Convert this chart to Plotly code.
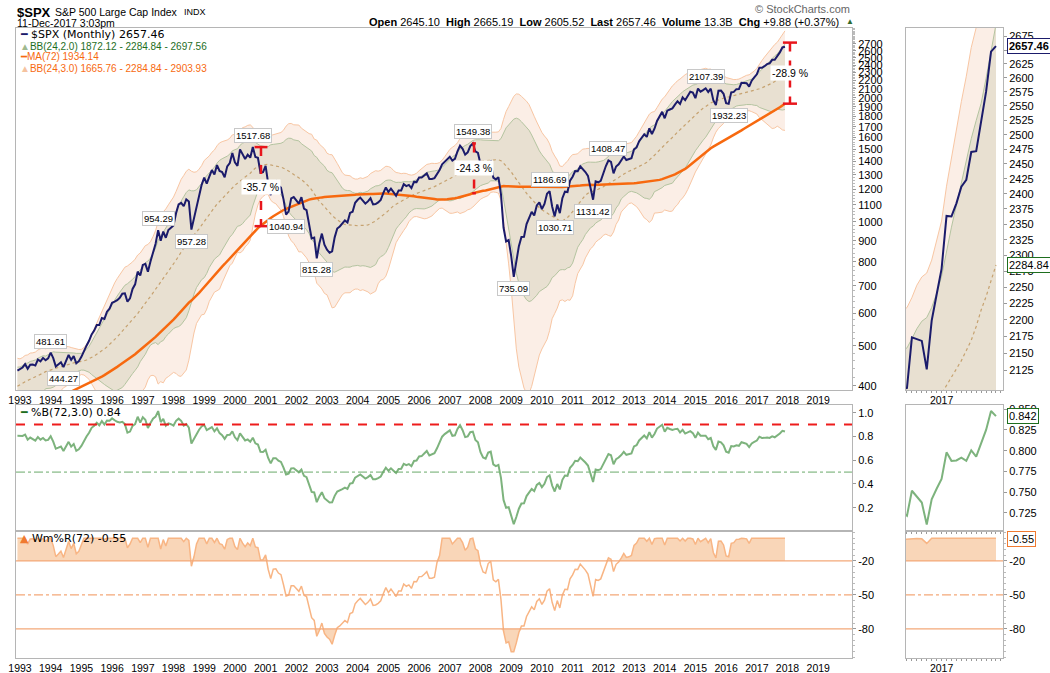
import numpy as np
import pandas as pd
import plotly.graph_objects as go

# ---------------- DATA (monthly closes of $SPX) ----------------
spx_1987_1992 = [274.08, 284.20, 291.70, 288.36, 290.10, 304.00, 318.66, 329.80, 321.83, 251.79, 230.30, 247.08,
                 257.07, 267.82, 258.89, 261.33, 262.16, 273.50, 272.02, 261.52, 271.91, 278.97, 273.70, 277.72,
                 297.47, 288.86, 294.87, 309.64, 320.52, 317.98, 346.08, 351.45, 349.15, 340.36, 345.99, 353.40,
                 329.08, 331.89, 339.94, 330.80, 361.23, 358.02, 356.15, 322.56, 306.05, 304.00, 322.22, 330.22,
                 343.93, 367.07, 375.22, 375.35, 389.83, 371.16, 387.81, 395.43, 387.86, 392.45, 375.22, 417.09,
                 408.79, 412.70, 403.69, 414.95, 415.35, 408.14, 424.21, 414.03, 417.80, 418.68, 431.35, 435.71]
spx_1993_1999 = [438.78, 443.38, 451.67, 440.19, 450.19, 450.53, 448.13, 463.56, 458.93, 467.83, 461.79, 466.45,
                 481.61, 467.14, 445.77, 450.91, 456.50, 444.27, 458.26, 475.49, 462.69, 472.35, 453.69, 459.27,
                 470.42, 487.39, 500.71, 514.71, 533.40, 544.75, 562.06, 561.88, 584.41, 581.50, 605.37, 615.93,
                 636.02, 640.43, 645.50, 654.17, 669.12, 670.63, 639.95, 651.99, 687.31, 705.27, 757.02, 740.74,
                 786.16, 790.82, 757.12, 801.34, 848.28, 885.14, 954.29, 899.47, 947.28, 914.62, 955.40, 970.43,
                 980.28, 1049.34, 1101.75, 1111.75, 1090.82, 1133.84, 1120.67, 957.28, 1017.01, 1098.67, 1163.63, 1229.23,
                 1279.64, 1238.33, 1286.37, 1335.18, 1301.84, 1372.71, 1328.72, 1320.41, 1282.71, 1362.93, 1388.91, 1469.25]
spx_2000_2008 = [1394.46, 1366.42, 1498.58, 1452.43, 1420.60, 1454.60, 1430.83, 1517.68, 1436.51, 1429.40, 1314.95, 1320.28,
                 1366.01, 1239.94, 1160.33, 1249.46, 1255.82, 1224.42, 1211.23, 1133.58, 1040.94, 1059.78, 1139.45, 1148.08,
                 1130.20, 1106.73, 1147.39, 1076.92, 1067.14, 989.82, 911.62, 916.07, 815.28, 885.76, 936.31, 879.82,
                 855.70, 841.15, 848.18, 916.92, 963.59, 974.50, 990.31, 1008.01, 995.97, 1050.71, 1058.20, 1111.92,
                 1131.13, 1144.94, 1126.21, 1107.30, 1120.68, 1140.84, 1101.72, 1104.24, 1114.58, 1130.20, 1173.82, 1211.92,
                 1181.27, 1203.60, 1180.59, 1156.85, 1191.50, 1191.33, 1234.18, 1220.33, 1228.81, 1207.01, 1249.48, 1248.29,
                 1280.08, 1280.66, 1294.87, 1310.61, 1270.09, 1270.20, 1276.66, 1303.82, 1335.85, 1377.94, 1400.63, 1418.30,
                 1438.24, 1406.82, 1420.86, 1482.37, 1530.62, 1503.35, 1455.27, 1473.99, 1526.75, 1549.38, 1481.14, 1468.36,
                 1378.55, 1330.63, 1322.70, 1385.59, 1400.38, 1280.00, 1267.38, 1282.83, 1166.36, 968.75, 896.24, 903.25]
spx_2009_2017 = [825.88, 735.09, 797.87, 872.81, 919.14, 919.32, 987.48, 1020.62, 1057.08, 1036.19, 1095.63, 1115.10,
                 1073.87, 1104.49, 1169.43, 1186.69, 1089.41, 1030.71, 1101.60, 1049.33, 1141.20, 1183.26, 1180.55, 1257.64,
                 1286.12, 1327.22, 1325.83, 1363.61, 1345.20, 1320.64, 1292.28, 1218.89, 1131.42, 1253.30, 1246.96, 1257.60,
                 1312.41, 1365.68, 1408.47, 1397.91, 1310.33, 1362.16, 1379.32, 1406.58, 1440.67, 1412.16, 1416.18, 1426.19,
                 1498.11, 1514.68, 1569.19, 1597.57, 1630.74, 1606.28, 1685.73, 1632.97, 1681.55, 1756.54, 1805.81, 1848.36,
                 1782.59, 1859.45, 1872.34, 1883.95, 1923.57, 1960.23, 1930.67, 2003.37, 1972.29, 2018.05, 2067.56, 2058.90,
                 1994.99, 2104.50, 2067.89, 2085.51, 2107.39, 2063.11, 2103.84, 1972.18, 1920.03, 2079.36, 2080.41, 2043.94,
                 1940.24, 1932.23, 2059.74, 2065.30, 2096.95, 2098.86, 2173.60, 2170.95, 2168.27, 2126.15, 2198.81, 2238.83,
                 2278.87, 2363.64, 2362.72, 2384.20, 2411.80, 2423.41, 2470.30, 2471.65, 2519.36, 2575.26, 2647.58, 2657.46]
first_year = 1987

year_ticks = list(range(1993, 2020))
main_yticks = [400, 500, 600, 700, 800, 900, 1000, 1100, 1200, 1300, 1400, 1500, 1600, 1700, 1800,
               1900, 2000, 2100, 2200, 2300, 2400, 2500, 2600, 2700]
zoom_yticks = [2125, 2150, 2175, 2200, 2225, 2250, 2275, 2300, 2325, 2350, 2375, 2400, 2425, 2450,
               2475, 2500, 2525, 2550, 2575, 2600, 2625, 2650, 2675]
pctb_ticks = [0.2, 0.4, 0.6, 0.8, 1.0]
pctb_zoom_ticks = [0.725, 0.750, 0.775, 0.800, 0.825, 0.850]
wr_ticks = [-20, -50, -80]

# labelled turning points (date, value, above?)
lbl_dates = [1994.0, 1994.417, 1997.5, 1998.583, 2000.583, 2001.667, 2002.667, 2007.75, 2009.083,
             2010.25, 2010.417, 2011.667, 2012.167, 2015.333, 2016.083]
lbl_values = [481.61, 444.27, 954.29, 957.28, 1517.68, 1040.94, 815.28, 1549.38, 735.09,
              1186.69, 1030.71, 1131.42, 1408.47, 2107.39, 1932.23]
lbl_above = [True, False, True, False, True, False, False, True, False, True, False, False, True, True, False]

# distance-to-MA markers
dd_dates = [2000.85, 2007.79, 2018.08]
dd_top = [1517.68, 1549.38, 2720.0]
dd_bottom = [976.0, 1173.0, 1934.14]
dd_text = ['-35.7 %', '-24.3 %', '-28.9 %']
dd_cap = [0.21, 0.06, 0.23]

# ---------------- INDICATORS ----------------
spx = np.array(spx_1987_1992 + spx_1993_1999 + spx_2000_2008 + spx_2009_2017)
t = first_year + np.arange(len(spx)) / 12.0
s = pd.Series(spx)
sma24 = s.rolling(24).mean()
sd24 = s.rolling(24).std(ddof=0)
up2, lo2 = sma24 + 2 * sd24, sma24 - 2 * sd24
up3, lo3 = sma24 + 3 * sd24, (sma24 - 3 * sd24).clip(lower=50)
ma72 = s.rolling(72).mean()
sd72 = s.rolling(72).std(ddof=0)
pctb = (s - (ma72 - 3 * sd72)) / (6 * sd72)
hh = s.rolling(72).max()
ll = s.rolling(72).min()
wr = (hh - s) / (hh - ll) * -100

m = t >= 1992.9
z = t >= 2016.3

# ---------------- COLOURS ----------------
NAVY = '#1b1b6b'
BB3_LINE, BB3_FILL = '#f8c6a3', '#fbeee6'
BB2_LINE, BB2_FILL = '#b4c4a0', '#e8e0d1'
MID = '#c6a270'
MA = '#f7690f'
PB = '#7db37d'
WR_LINE, WR_FILL, WR_H = '#f8b584', '#f9d6b8', '#f3a878'
AX = '#b5b5b5'

fig = go.Figure()

def add(tr, xa, ya):
    tr.update(xaxis=xa, yaxis=ya, showlegend=False, hoverinfo='skip')
    fig.add_trace(tr)

def price_panel(mask, xa, ya):
    tt = t[mask]
    add(go.Scatter(x=tt, y=lo3[mask], mode='lines', line=dict(color=BB3_LINE, width=1)), xa, ya)
    add(go.Scatter(x=tt, y=up3[mask], mode='lines', line=dict(color=BB3_LINE, width=1),
                   fill='tonexty', fillcolor=BB3_FILL), xa, ya)
    add(go.Scatter(x=tt, y=lo2[mask], mode='lines', line=dict(color=BB2_LINE, width=1)), xa, ya)
    add(go.Scatter(x=tt, y=up2[mask], mode='lines', line=dict(color=BB2_LINE, width=1),
                   fill='tonexty', fillcolor=BB2_FILL), xa, ya)
    add(go.Scatter(x=tt, y=sma24[mask], mode='lines', line=dict(color=MID, width=1.2, dash='dot')), xa, ya)
    add(go.Scatter(x=tt, y=ma72[mask], mode='lines', line=dict(color=MA, width=2.5)), xa, ya)
    add(go.Scatter(x=tt, y=spx[mask], mode='lines', line=dict(color=NAVY, width=2)), xa, ya)

price_panel(m, 'x', 'y')
price_panel(z, 'x2', 'y2')

# drawdown markers
for d, top, bot, cap in zip(dd_dates, dd_top, dd_bottom, dd_cap):
    add(go.Scatter(x=[d, d], y=[top, bot], mode='lines', line=dict(color='#e8161c', width=2.5, dash='dash')), 'x', 'y')
    for v in (top, bot):
        add(go.Scatter(x=[d - cap, d + cap], y=[v, v], mode='lines', line=dict(color='#e8161c', width=2.5)), 'x', 'y')

# %B
add(go.Scatter(x=t[m], y=pctb[m], mode='lines', line=dict(color=PB, width=2)), 'x3', 'y3')
add(go.Scatter(x=t[z], y=pctb[z], mode='lines', line=dict(color=PB, width=2)), 'x4', 'y4')

# Wm%R
def wr_panel(mask, xa, ya):
    tt = t[mask]
    w = wr[mask].values
    add(go.Scatter(x=tt, y=np.full(len(tt), -20.0), mode='lines', line=dict(width=0)), xa, ya)
    add(go.Scatter(x=tt, y=np.maximum(w, -20), mode='lines', line=dict(width=0),
                   fill='tonexty', fillcolor=WR_FILL), xa, ya)
    add(go.Scatter(x=tt, y=np.full(len(tt), -80.0), mode='lines', line=dict(width=0)), xa, ya)
    add(go.Scatter(x=tt, y=np.minimum(w, -80), mode='lines', line=dict(width=0),
                   fill='tonexty', fillcolor=WR_FILL), xa, ya)
    add(go.Scatter(x=tt, y=w, mode='lines', line=dict(color=WR_LINE, width=1.5)), xa, ya)

wr_panel(m, 'x5', 'y5')
wr_panel(z, 'x6', 'y6')

# ---------------- LAYOUT ----------------
X0, X1 = 1992.87, 2020.10
Z0, Z1 = 2016.40, 2018.035
DM, DZ = [0, 0.847], [0.9017, 1.0]
YM, YB, YW = [0.4254, 1.0], [0.2016, 0.4016], [0.0, 0.2016]
TF = dict(family='Liberation Sans, Arial', size=11, color='black')

common = dict(showline=True, linecolor=AX, linewidth=1, mirror=True, showgrid=False, zeroline=False)
xmain = dict(common, domain=DM, range=[X0, X1], tickmode='array', tickvals=year_ticks,
             ticktext=[str(v) for v in year_ticks], ticks='', tickfont=dict(TF, size=10.5))
xzoom = dict(common, domain=DZ, range=[Z0, Z1], tickmode='array', tickvals=[2017], ticktext=['2017'],
             ticks='', tickfont=dict(TF, size=10.5),
             minor=dict(tickmode='linear', tick0=2017, dtick=1 / 12, ticks='outside', ticklen=2, tickcolor='#999'))
yax = dict(common, side='right', ticks='outside', ticklen=3, tickcolor='#999', tickfont=TF)

fig.update_layout(
    width=1050, height=673,
    margin=dict(l=16, r=47, t=28, b=15, autoexpand=False),
    plot_bgcolor='white', paper_bgcolor='white',
    xaxis=dict(xmain, anchor='y'),
    xaxis3=dict(xmain, anchor='y3', showticklabels=False),
    xaxis5=dict(xmain, anchor='y5'),
    xaxis2=dict(xzoom, anchor='y2'),
    xaxis4=dict(xzoom, anchor='y4', showticklabels=False),
    xaxis6=dict(xzoom, anchor='y6'),
    yaxis=dict(yax, domain=YM, anchor='x', type='log', range=[np.log10(391), np.log10(2951)],
               tickmode='array', tickvals=main_yticks, ticktext=[str(v) for v in main_yticks],
               minor=dict(tickmode='array', tickvals=list(range(400, 2960, 20)), ticks='outside',
                          ticklen=2, tickcolor='#bbb')),
    yaxis2=dict(yax, domain=YM, anchor='x2', type='log', range=[np.log10(2096), np.log10(2691)],
                tickmode='array', tickvals=zoom_yticks, ticktext=[str(v) for v in zoom_yticks]),
    yaxis3=dict(yax, domain=YB, anchor='x3', range=[0.004, 1.065], tickmode='array',
                tickvals=pctb_ticks, ticktext=['%.1f' % v for v in pctb_ticks]),
    yaxis4=dict(yax, domain=YB, anchor='x4', range=[0.7029, 0.8552], tickmode='array',
                tickvals=pctb_zoom_ticks, ticktext=['%.3f' % v for v in pctb_zoom_ticks]),
    yaxis5=dict(yax, domain=YW, anchor='x5', range=[-105.6, 6.4], tickmode='array',
                tickvals=wr_ticks, ticktext=[str(v) for v in wr_ticks],
                minor=dict(tickmode='linear', tick0=0, dtick=5, ticks='outside', ticklen=2, tickcolor='#bbb')),
    yaxis6=dict(yax, domain=YW, anchor='x6', range=[-105.6, 6.4], tickmode='array',
                tickvals=wr_ticks, ticktext=[str(v) for v in wr_ticks],
                minor=dict(tickmode='linear', tick0=0, dtick=5, ticks='outside', ticklen=2, tickcolor='#bbb')),
)

# reference lines
shapes = [
    dict(type='line', xref='x3 domain', yref='y3', x0=0, x1=1, y0=0.9, y1=0.9,
         line=dict(color='#ee1c1c', width=2, dash='dash')),
    dict(type='line', xref='x3 domain', yref='y3', x0=0, x1=1, y0=0.5, y1=0.5,
         line=dict(color='#6aaa6a', width=1, dash='dashdot')),
]
for xa, ya in (('x5', 'y5'), ('x6', 'y6')):
    for lv, ds in ((-20, 'solid'), (-50, 'dashdot'), (-80, 'solid')):
        shapes.append(dict(type='line', xref=xa + ' domain', yref=ya, x0=0, x1=1, y0=lv, y1=lv,
                           line=dict(color=WR_H, width=1.2, dash=ds)))
fig.update_layout(shapes=shapes)

def px(xp):
    return (xp - 16) / 987.0

def py(yp):
    return (658 - yp) / 630.0

ann = []
def text(xp, yp, s, size=11, color='black', family='Liberation Sans, Arial', anchor='left', **kw):
    ann.append(dict(xref='paper', yref='paper', x=px(xp), y=py(yp), text=s, showarrow=False,
                    xanchor=anchor, yanchor='middle', font=dict(family=family, size=size, color=color), **kw))

# header
text(15, 12, '<b>$SPX</b>', size=13)
text(53, 12, 'S&P 500 Large Cap Index', size=10.5)
text(182, 12, 'INDX', size=9)
text(15, 23, '11-Dec-2017 3:03pm', size=10.5)
text(852, 9, '© StockCharts.com', size=11, color='#666666', anchor='right')
text(841, 22, '<b>Open</b> 2645.10  <b>High</b> 2665.19  <b>Low</b> 2605.52  <b>Last</b> 2657.46  '
              '<b>Volume</b> 13.3B  <b>Chg</b> +9.88 (+0.37%)', size=11, anchor='right')
text(844, 21, '▲', size=8, color='#2e6b2e')

# legends
DV = 'DejaVu Sans, Verdana'
text(18, 35, '<span style="color:%s">━</span> $SPX (Monthly) 2657.46' % NAVY, size=11, family=DV)
text(18, 46, '<span style="color:#9fb98f">▲</span>BB(24,2.0) 1872.12 - 2284.84 - 2697.56', size=10, color='#1e6e1e')
text(18, 57, '<span style="color:%s">━</span>MA(72) 1934.14' % MA, size=10, color=MA)
text(18, 68, '<span style="color:#f5c3a0">▲</span>BB(24,3.0) 1665.76 - 2284.84 - 2903.93', size=10, color=MA)
text(18, 412, '<span style="color:#1e6e1e">━</span> %B(72,3.0) 0.84', size=11, family=DV)
text(18, 538, '<span style="color:#f07a30">▲</span> Wm%R(72) -0.55', size=11, family=DV)

# turning-point labels
for d, v, a in zip(lbl_dates, lbl_values, lbl_above):
    ann.append(dict(xref='x', yref='y', x=d, y=np.log10(v), text='%.2f' % v, showarrow=False,
                    yanchor='bottom' if a else 'top', yshift=4 if a else -4,
                    font=dict(family='Liberation Sans, Arial', size=9.5, color='black'),
                    bgcolor='white', bordercolor='#c8c8c8', borderwidth=1, borderpad=1))

# drawdown labels
for d, top, bot, s_ in zip(dd_dates, dd_top, dd_bottom, dd_text):
    ann.append(dict(xref='x', yref='y', x=d, y=(np.log10(top) + np.log10(bot)) / 2, text=s_, showarrow=False,
                    font=dict(family='Liberation Sans, Arial', size=10.5, color='black'),
                    bgcolor='white', borderpad=1))

# last-value tags on the right
def tag(xa, ya, yv, s_, col):
    ann.append(dict(xref=xa + ' domain', yref=ya, x=1.0, y=yv, xanchor='left', xshift=4, text=s_,
                    showarrow=False, font=dict(family='Liberation Sans, Arial', size=11, color='black'),
                    bgcolor='white', bordercolor=col, borderwidth=1, borderpad=1))

tag('x2', 'y2', np.log10(spx[-1]), '<b>%.2f</b>' % spx[-1], NAVY)
tag('x2', 'y2', np.log10(sma24.iloc[-1]), '%.2f' % sma24.iloc[-1], '#1e6e1e')
tag('x4', 'y4', pctb.iloc[-1], '%.3f' % pctb.iloc[-1], '#1e6e1e')
tag('x6', 'y6', -0.55, '-0.55', '#f07a30')

fig.update_layout(annotations=ann)

fig.write_html("out.html", config={'displayModeBar': False},
               post_script="document.body.style.margin='0';")
